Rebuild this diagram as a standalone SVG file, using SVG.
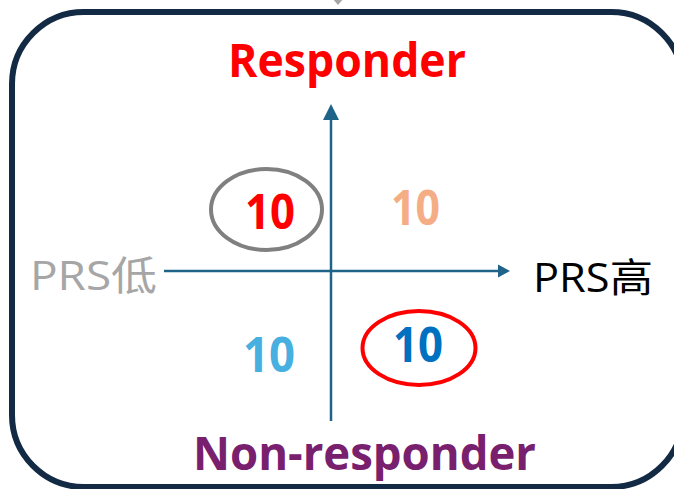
<svg xmlns="http://www.w3.org/2000/svg" width="674" height="489" viewBox="0 0 674 489">
<style>
.lbl{font-family:"Open Sans","Noto Sans CJK SC",sans-serif;}
.b{font-weight:bold;}
.num{font-family:"Open Sans",sans-serif;font-weight:bold;font-size:48px;text-anchor:middle;}
.axis{stroke:#1f6488;stroke-width:2.5;fill:none;}
</style>
<rect width="674" height="489" fill="#ffffff"/>
<g id="frame">
<rect x="12" y="12" width="671" height="475" rx="72" ry="72" fill="none" stroke="#132a44" stroke-width="6"/>
</g>
<g id="connectors">
<polygon points="332,-2 344,-2 338,5" fill="#a6a6a6"/>
<line class="axis" x1="164" y1="271" x2="499" y2="271"/>
<polygon points="510,271 498,264.5 498,277.5" fill="#1f6488"/>
<line class="axis" x1="331" y1="421" x2="331" y2="118"/>
<polygon points="331,104 323,120 339,120" fill="#1f6488"/>
</g>
<g id="responder">
<text class="lbl b" x="347" y="77" font-size="46" fill="#ff0000" text-anchor="middle" textLength="238" lengthAdjust="spacingAndGlyphs">Responder</text>
</g>
<g id="non-responder">
<text class="lbl b" x="364.5" y="470" font-size="46" fill="#78206e" text-anchor="middle" textLength="343" lengthAdjust="spacingAndGlyphs">Non-responder</text>
</g>
<g id="prs-low">
<text class="lbl" x="30" y="290" font-size="40" fill="#a6a6a6" textLength="127" lengthAdjust="spacingAndGlyphs">PRS低</text>
</g>
<g id="prs-high">
<text class="lbl" x="533" y="292" font-size="40" fill="#000000" textLength="120" lengthAdjust="spacingAndGlyphs">PRS高</text>
</g>
<g id="q-top-left">
<ellipse cx="266.5" cy="209.5" rx="55.5" ry="40.5" fill="none" stroke="#808080" stroke-width="4"/>
<text class="num" x="270" y="229" fill="#ff0000" textLength="50" lengthAdjust="spacingAndGlyphs">10</text>
</g>
<g id="q-top-right">
<text class="num" x="415.5" y="225" fill="#f4ad85" textLength="49" lengthAdjust="spacingAndGlyphs">10</text>
</g>
<g id="q-bottom-left">
<text class="num" x="269" y="372" fill="#47b0e0" textLength="52" lengthAdjust="spacingAndGlyphs">10</text>
</g>
<g id="q-bottom-right">
<ellipse cx="419" cy="348" rx="56.5" ry="37" fill="none" stroke="#ff0000" stroke-width="4"/>
<text class="num" x="418" y="362" fill="#0070c0" textLength="50" lengthAdjust="spacingAndGlyphs">10</text>
</g>
</svg>
